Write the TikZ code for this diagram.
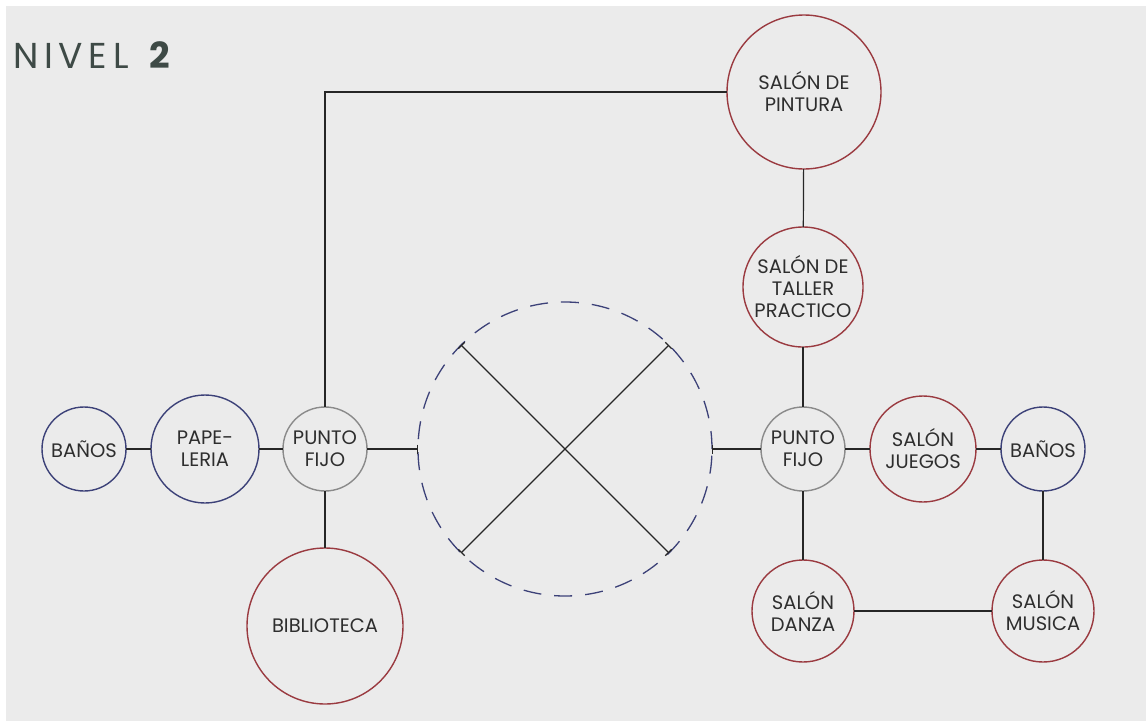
\documentclass[tikz,border=0pt]{standalone}
\usepackage{fontspec}
\setmainfont{Poppins}
\newfontfamily\titlefont[LetterSpace=16]{Poppins}
\usetikzlibrary{arrows.meta}
\definecolor{fondo}{HTML}{EBEBEB}
\definecolor{rojo}{HTML}{9A3A40}
\definecolor{azul}{HTML}{3C4178}
\definecolor{gris}{HTML}{8A8A8A}
\definecolor{titulo}{HTML}{3E4A46}
\definecolor{texto}{HTML}{2E2E2E}
\tikzset{
  espacio/.style={circle,line width=1.4pt,inner sep=-20pt,outer sep=0pt,
    minimum size=#1,align=center,text=texto,font=\fontsize{19.5}{22}\selectfont},
  sala/.style={espacio=#1,draw=rojo},
  servicio/.style={espacio=#1,draw=azul},
  fijo/.style={espacio=#1,draw=gris},
  enlace/.style={line width=1.2pt,draw=black!85}
}
\begin{document}
\begin{tikzpicture}[x=1pt,y=-1pt]
    \useasboundingbox (0,0) rectangle (1146,721);
    \fill[white] (0,0) rectangle (1146,721);
    \fill[fondo] (6,6) rectangle (1146,721);
    % titulo
    \node[anchor=base west,inner sep=0pt,text=titulo,font=\titlefont\fontsize{36}{36}\selectfont] (nivel) at (13,68) {NIVEL \textbf{2}};
    % espacios
    \node[servicio=84pt] (bannosA) at (84,449) {BAÑOS};
    \node[servicio=108pt] (papeleria) at (205,449) {PAPE-\\LERIA};
    \node[fijo=84pt] (pfijoA) at (325,449) {PUNTO\\FIJO};
    \node[sala=156pt] (biblioteca) at (325,626) {BIBLIOTECA};
    \node[sala=154pt] (pintura) at (804,92) {SALÓN DE\\PINTURA};
    \node[sala=120pt] (taller) at (803,287) {SALÓN DE\\TALLER\\PRACTICO};
    \node[fijo=84pt] (pfijoB) at (803,449) {PUNTO\\FIJO};
    \node[sala=106pt] (juegos) at (923,449) {SALÓN\\JUEGOS};
    \node[servicio=84pt] (bannosB) at (1043,449) {BAÑOS};
    \node[sala=102pt] (danza) at (803,611) {SALÓN\\DANZA};
    \node[sala=102pt] (musica) at (1043,611) {SALÓN\\MUSICA};
    \node[circle,draw=azul,line width=1.3pt,dash pattern=on 18pt off 13pt,minimum size=294pt,inner sep=0pt,outer sep=0pt] (patio) at (565,449) {};
    % conexiones
    \draw[enlace] (bannosA) -- (papeleria);
    \draw[enlace] (papeleria) -- (pfijoA);
    \draw[enlace] (pfijoA) -- (biblioteca);
    \draw[enlace] (pfijoA) |- (pintura);
    \draw[enlace] (pintura) -- (taller);
    \draw[enlace] (taller) -- (pfijoB);
    \draw[enlace] (pfijoB) -- (juegos);
    \draw[enlace] (juegos) -- (bannosB);
    \draw[enlace] (bannosB) -- (musica);
    \draw[enlace] (musica) -- (danza);
    \draw[enlace] (danza) -- (pfijoB);
    \draw[enlace,-{Bar[width=9pt]}] (pfijoA) -- (patio);
    \draw[enlace,-{Bar[width=9pt]}] (pfijoB) -- (patio);
    \draw[enlace,{Bar[width=9pt]}-{Bar[width=9pt]}] (patio.135) -- (patio.-45);
    \draw[enlace,{Bar[width=9pt]}-{Bar[width=9pt]}] (patio.45) -- (patio.-135);
\end{tikzpicture}
\end{document}
